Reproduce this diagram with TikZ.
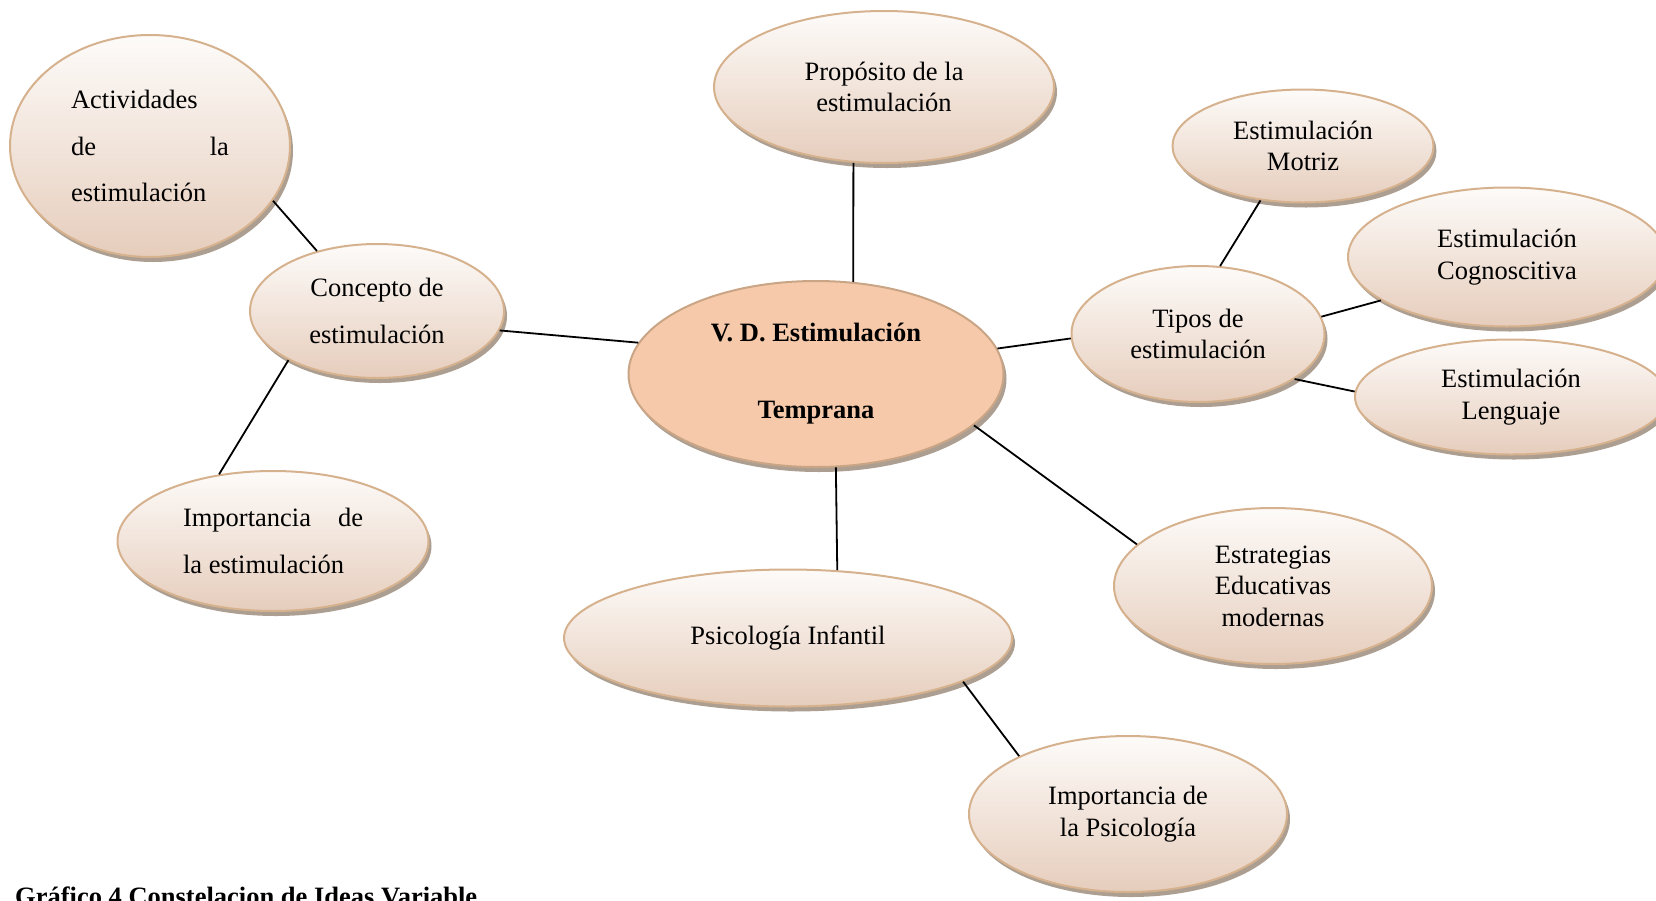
\documentclass[tikz,border=0pt]{standalone}
\usepackage{fontspec}
\setmainfont{Liberation Serif}
\usepackage{xcolor}
\usepackage{tikz}
\usetikzlibrary{positioning,shapes,shadows}

\definecolor{bubtop}{HTML}{FDFBF9}
\definecolor{bubbot}{HTML}{E6CDBC}
\definecolor{bubline}{HTML}{D6B18D}
\definecolor{vdfill}{HTML}{F5C9A9}
\definecolor{vdline}{HTML}{C9A586}
\definecolor{shadowc}{HTML}{A39586}

\begin{document}
\begin{tikzpicture}[x=1pt,y=-1pt,
  base/.style={ellipse, on grid, line width=2pt, inner sep=0pt, align=center,
    drop shadow={shadow xshift=3pt, shadow yshift=-5pt, fill=shadowc, opacity=0.9},
    font=\fontsize{26.5}{31.5}\selectfont},
  bubble/.style={base, draw=bubline, top color=bubtop, bottom color=bubbot},
  link/.style={line width=1.8pt}]
        \tikzstyle{wide} = [font=\fontsize{26.5}{46.5}\selectfont]
        \useasboundingbox (0,0) rectangle (1656,900);
        \clip (0,0) rectangle (1656,900);

        \node[base, draw=vdline, fill=vdfill, minimum width=375pt, minimum height=186pt,
          font=\bfseries\fontsize{26.5}{77}\selectfont] (vd) at (816,374) {V. D. Estimulación\\Temprana};
        \node[bubble, minimum width=340pt, minimum height=152pt, above right=287pt and 68pt of vd] (prop) {Propósito de la\\estimulación};
        \node[bubble, wide, minimum width=254pt, minimum height=134pt, above left=63pt and 439pt of vd] (con) {Concepto de\\estimulación};
        \node[bubble, wide, minimum width=280pt, minimum height=222pt, above left=165pt and 227pt of con] (act) {\parbox{158pt}{Actividades\\de\hfill la\\estimulación}};
        \node[bubble, wide, minimum width=311pt, minimum height=140pt, below left=230pt and 104pt of con] (impest) {\parbox{180pt}{Importancia\hfill de\\la estimulación}};
        \node[bubble, minimum width=448pt, minimum height=137pt, below left=264pt and 28pt of vd] (psico) {Psicología Infantil};
        \node[bubble, minimum width=318pt, minimum height=156pt, below right=176pt and 340pt of psico] (impps) {Importancia de\\la Psicología};
        \node[bubble, minimum width=318pt, minimum height=156pt, below right=212pt and 457pt of vd] (estr) {Estrategias\\Educativas\\modernas};
        \node[bubble, minimum width=253pt, minimum height=136pt, above right=40pt and 382pt of vd] (tipos) {Tipos de\\estimulación};
        \node[bubble, minimum width=261pt, minimum height=113pt, above right=188pt and 105pt of tipos] (motriz) {Estimulación\\Motriz};
        \node[bubble, minimum width=318pt, minimum height=139pt, above right=77pt and 309pt of tipos] (cogn) {Estimulación\\Cognoscitiva};
        \node[bubble, minimum width=312pt, minimum height=115pt, below right=63pt and 313pt of tipos] (leng) {Estimulación\\Lenguaje};

        \draw [link] (act.-24) -- (con.135);
        \draw [link] (con.209) -- (impest.129);
        \draw [link] (con.-9) -- (vd.170);
        \draw [link] (prop.248) -- (vd.68);
        \draw [link] (vd.8) -- (tipos.182);
        \draw [link] (vd.-78) -- (psico.54);
        \draw [link] (vd.-18) -- (estr.163);
        \draw [link] (psico.-14) -- (impps.152);
        \draw [link] (tipos.72) -- (motriz.-128);
        \draw [link] (tipos.8) -- (cogn.199);
        \draw [link] (tipos.-25) -- (leng.178);

        \node[anchor=base west, inner sep=0pt, font=\bfseries\fontsize{26.5}{31.5}\selectfont] (cap) at (15,905) {Gráfico 4 Constelacion de Ideas Variable};
\end{tikzpicture}
\end{document}
